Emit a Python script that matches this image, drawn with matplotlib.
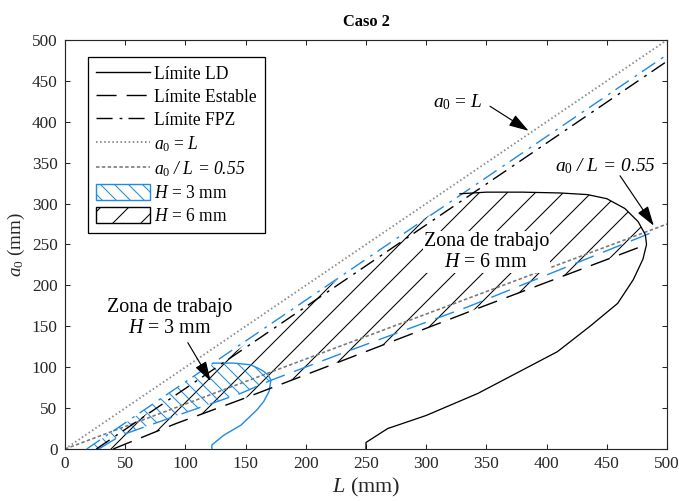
import numpy as np
import matplotlib
matplotlib.use("Agg")
import matplotlib.pyplot as plt
from matplotlib.patches import Patch, Polygon
from matplotlib.lines import Line2D

# ---------------- data ----------------
L_line = [0, 500]                 # reference lines a0 = L and a0/L = 0.55
ratio = 0.55

# H = 6 mm (black)
L_fpz6 = [26, 500]
a_fpz6 = [0, 474]
L_est6 = [40, 92, 149, 211, 343, 483]
a_est6 = [0, 31, 62, 97, 172, 250]
L_ld6 = [250, 250, 268, 300, 343, 409, 436, 459, 472, 480, 483, 482, 476, 465, 450, 434, 411, 380, 350, 328]
a_ld6 = [0, 8, 25, 41, 68, 119, 150, 178, 207, 232, 250, 262, 278, 294, 306, 311, 313, 314, 314, 312]

# H = 3 mm (blue)
L_fpz3 = [18, 500]
a_fpz3 = [0, 482]
L_est3 = [28, 47, 95, 146, 171, 232, 335, 493]
a_est3 = [0, 17, 42, 68, 84, 118, 174, 268]
L_ld3 = [122, 122, 132, 146, 159.5, 165, 169.4, 171, 169, 165, 160, 154, 140, 124]
a_ld3 = [0, 5, 17, 29, 48, 58, 70, 84, 90, 95, 99, 103, 105, 105]

ticks = [0, 50, 100, 150, 200, 250, 300, 350, 400, 450, 500]

legend_labels = ["Límite LD", "Límite Estable", "Límite FPZ",
                 r"$a_\mathit{0}$ = $L$", r"$a_\mathit{0}$ / L = 0.55",
                 r"$H$ = 3 mm", r"$H$ = 6 mm"]

# ---------------- style ----------------
DPI = 168
plt.rcParams["font.family"] = ["Liberation Serif", "DejaVu Serif"]
plt.rcParams["mathtext.fontset"] = "custom"
plt.rcParams["mathtext.rm"] = "Liberation Serif"
plt.rcParams["mathtext.it"] = "Liberation Serif:italic"
plt.rcParams["mathtext.bf"] = "Liberation Serif:bold"
plt.rcParams["lines.scale_dashes"] = False
plt.rcParams["hatch.linewidth"] = 0.45

BLUE = "#1E8CE6"
GRAY_DOT = "#8a8a8a"
GRAY_DASH = "#7a7a7a"
AXC = "#262626"

DASH = (0, (8.6, 4.3))
DASHDOT = (0, (6.9, 3.0, 1.2, 2.6))
DOT = (0, (0.65, 1.1))
FINEDASH = (0, (1.5, 1.0))

HATCH6 = "//"
HATCH3 = "\\\\\\\\"

fig = plt.figure(figsize=(679 / DPI, 501 / DPI), dpi=DPI)
ax = fig.add_axes([65 / 679, 1 - 449 / 501, 602 / 679, 409 / 501])


def zone_vertices(Lu, au, Ll, al, Lld, ald):
    Lu, au, Ll, al, Lld, ald = map(lambda v: np.asarray(v, float), (Lu, au, Ll, al, Lld, ald))
    low_at = np.interp(Lld, Ll, al)
    top = ald >= low_at - 0.5
    Lt, at = Lld[top], ald[top]
    Lr = Lt[0]
    keep = Ll < Lr
    verts = [(Lu[0], au[0])]
    verts += list(zip(Lt[::-1], at[::-1]))
    verts += list(zip(Ll[keep][::-1], al[keep][::-1]))
    return np.array(verts)


# hatched working zones
z6 = Polygon(zone_vertices(L_fpz6, a_fpz6, L_est6, a_est6, L_ld6, a_ld6),
             closed=True, facecolor="none", edgecolor="k", hatch=HATCH6, lw=0, zorder=1)
ax.add_patch(z6)
z3 = Polygon(zone_vertices(L_fpz3, a_fpz3, L_est3, a_est3, L_ld3, a_ld3),
             closed=True, facecolor="none", edgecolor=BLUE, hatch=HATCH3, lw=0, zorder=1)
ax.add_patch(z3)

# reference lines
L_arr = np.asarray(L_line, float)
ax.plot(L_arr, L_arr, color=GRAY_DOT, lw=0.8, ls=DOT, zorder=2)
ax.plot(L_arr, ratio * L_arr, color=GRAY_DASH, lw=0.7, ls=FINEDASH, zorder=2)

# H = 3 mm limits
ax.plot(L_fpz3, a_fpz3, color=BLUE, lw=0.6, ls=DASHDOT, zorder=3)
ax.plot(L_est3, a_est3, color=BLUE, lw=0.6, ls=DASH, zorder=3)
ax.plot(L_ld3, a_ld3, color=BLUE, lw=0.6, ls="-", zorder=3)

# H = 6 mm limits
ax.plot(L_fpz6, a_fpz6, color="k", lw=0.6, ls=DASHDOT, zorder=3)
ax.plot(L_est6, a_est6, color="k", lw=0.6, ls=DASH, zorder=3)
ax.plot(L_ld6, a_ld6, color="k", lw=0.55, ls="-", zorder=3)

# axes styling
ax.set_xlim(0, 500)
ax.set_ylim(0, 500)
ax.set_xticks(ticks)
ax.set_yticks(ticks)
ax.tick_params(direction="in", length=2.2, width=0.45, top=True, right=True,
               labelsize=7.4, pad=3.2, color=AXC, labelcolor=AXC)
for s in ax.spines.values():
    s.set_linewidth(0.5)
    s.set_color(AXC)

ax.set_xlabel(r"$L$ (mm)", fontsize=9.5, labelpad=1.5, color=AXC)
ax.set_ylabel(r"$a_\mathit{0}$ (mm)", fontsize=8.2, labelpad=2, color=AXC)
ax.set_title("Caso 2", fontsize=7, fontweight="bold", pad=6)

# annotations
arrow = dict(arrowstyle="-|>,head_length=0.8,head_width=0.25", color="k", lw=0.5,
             mutation_scale=9, shrinkA=0, shrinkB=0)
ax.text(326, 424, r"$a_\mathit{0}$ = $L$", fontsize=8.3, ha="center", va="center")
ax.annotate("", xy=(385, 389), xytext=(353, 419), arrowprops=arrow, zorder=6)

ax.text(449, 346, r"$a_\mathit{0}$ / L = 0.55", fontsize=8.3, ha="center", va="center",
        fontstyle="italic")
ax.annotate("", xy=(489, 273), xytext=(461, 334), arrowprops=arrow, zorder=6)

ax.text(350, 241, "Zona de trabajo\n$H$ = 6 mm", fontsize=8.6, ha="center", va="center",
        linespacing=1.15, zorder=5,
        bbox=dict(facecolor="white", edgecolor="none", pad=0.5))

ax.text(87, 160, "Zona de trabajo\n$H$ = 3 mm", fontsize=8.6, ha="center", va="center",
        linespacing=1.15, zorder=5)
ax.annotate("", xy=(121, 83), xytext=(102, 130), arrowprops=arrow, zorder=6)

# legend
handles = [
    Line2D([], [], color="k", lw=0.6, ls="-"),
    Line2D([], [], color="k", lw=0.6, ls=DASH),
    Line2D([], [], color="k", lw=0.6, ls=DASHDOT),
    Line2D([], [], color=GRAY_DOT, lw=0.8, ls=DOT),
    Line2D([], [], color=GRAY_DASH, lw=0.7, ls=FINEDASH),
    Patch(facecolor="white", edgecolor=BLUE, hatch=HATCH3, lw=0.6),
    Patch(facecolor="white", edgecolor="k", hatch=HATCH6, lw=0.6),
]
leg = ax.legend(handles, legend_labels, loc="upper left", bbox_to_anchor=(0.038, 0.958),
                fontsize=7.5, frameon=True, fancybox=False, edgecolor="k", framealpha=1,
                handlelength=3.1, handleheight=1.0, handletextpad=0.25,
                labelspacing=0.3, borderpad=0.45, borderaxespad=0)
leg.get_frame().set_linewidth(0.55)
leg.get_texts()[4].set_fontstyle("italic")
leg.set_zorder(10)

fig.savefig("out.png", dpi=DPI)
